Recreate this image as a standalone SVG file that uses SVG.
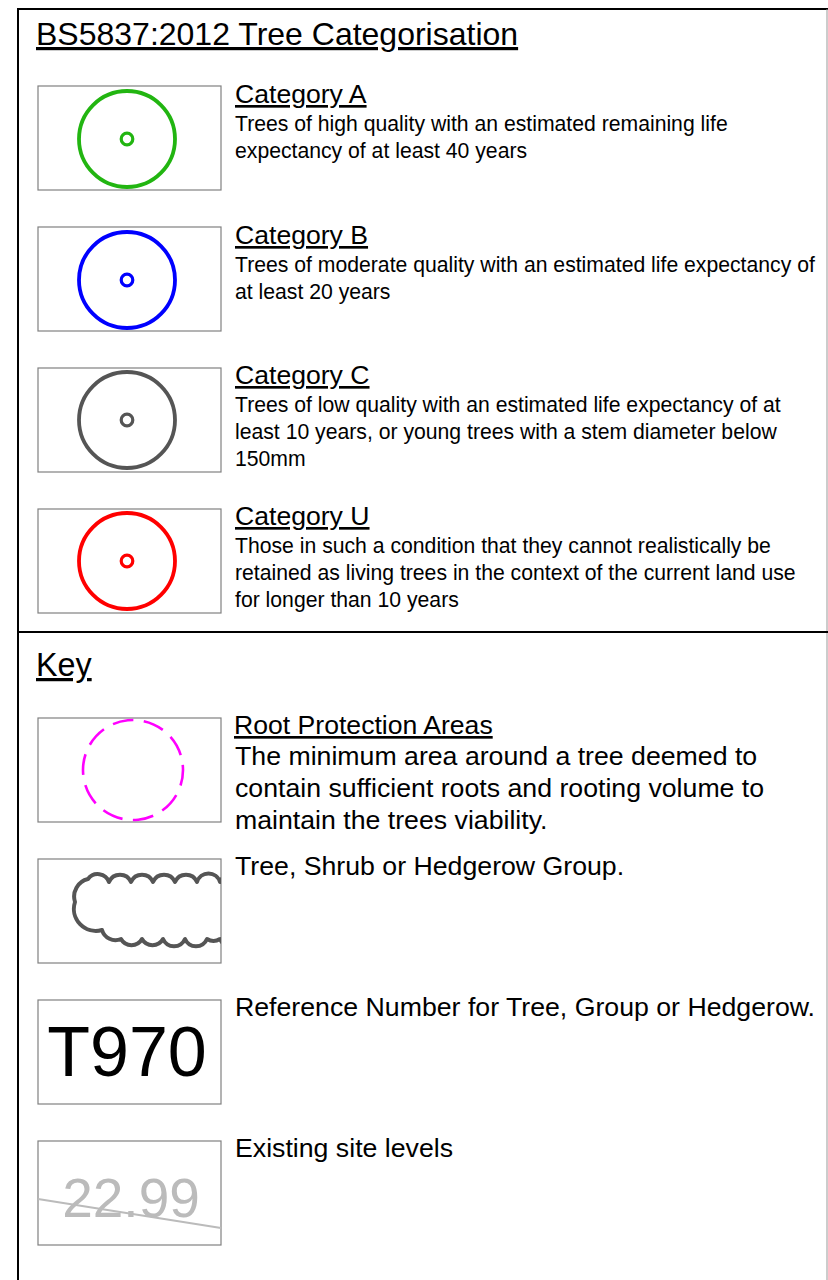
<svg xmlns="http://www.w3.org/2000/svg" width="828" height="1280" viewBox="0 0 828 1280">
<style>
text{font-family:"Liberation Sans",Arial,sans-serif;fill:#000}
.box{fill:#fff;stroke:#808080;stroke-width:1.2}
.h{font-size:26.6px;text-decoration:underline}
.d{font-size:21.2px}
.k{font-size:26.7px}
.ring{fill:none;stroke-width:3.8}
.dot{fill:none;stroke-width:3.2}
</style>
<defs>
<clipPath id="cgrp"><rect x="38" y="859" width="183" height="104"/></clipPath>
</defs>
<rect x="0" y="0" width="828" height="1280" fill="#fff"/>
<g id="frame">
<line x1="18" y1="9" x2="828" y2="9" stroke="#000" stroke-width="2"/>
<line x1="18" y1="8" x2="18" y2="1280" stroke="#000" stroke-width="2"/>
<line x1="827" y1="9" x2="827" y2="1280" stroke="#999" stroke-width="1"/>
<line x1="18" y1="632" x2="828" y2="632" stroke="#000" stroke-width="2"/>
</g>
<g id="title">
<text x="36" y="45" style="font-size:32px;text-decoration:underline">BS5837:2012 Tree Categorisation</text>
</g>
<g id="catA">
<rect class="box" x="38" y="86" width="183" height="104"/>
<circle class="ring" cx="127" cy="139" r="48" stroke="#22b511"/>
<circle class="dot" cx="127" cy="139" r="5.8" stroke="#22b511"/>
<text class="h" x="235" y="103">Category A</text>
<text class="d" x="235" y="131">Trees of high quality with an estimated remaining life</text>
<text class="d" x="235" y="158">expectancy of at least 40 years</text>
</g>
<g id="catB">
<rect class="box" x="38" y="227" width="183" height="104"/>
<circle class="ring" cx="127" cy="280" r="48" stroke="#0000ff"/>
<circle class="dot" cx="127" cy="280" r="5.8" stroke="#0000ff"/>
<text class="h" x="235" y="244">Category B</text>
<text class="d" x="235" y="272">Trees of moderate quality with an estimated life expectancy of</text>
<text class="d" x="235" y="299">at least 20 years</text>
</g>
<g id="catC">
<rect class="box" x="38" y="368" width="183" height="104"/>
<circle class="ring" cx="127" cy="420" r="48" stroke="#555555"/>
<circle class="dot" cx="127" cy="420" r="5.8" stroke="#555555"/>
<text class="h" x="235" y="384">Category C</text>
<text class="d" x="235" y="412">Trees of low quality with an estimated life expectancy of at</text>
<text class="d" x="235" y="439">least 10 years, or young trees with a stem diameter below</text>
<text class="d" x="235" y="466">150mm</text>
</g>
<g id="catU">
<rect class="box" x="38" y="509" width="183" height="104"/>
<circle class="ring" cx="127" cy="561" r="48" stroke="#ff0000"/>
<circle class="dot" cx="127" cy="561" r="5.8" stroke="#ff0000"/>
<text class="h" x="235" y="525">Category U</text>
<text class="d" x="235" y="553">Those in such a condition that they cannot realistically be</text>
<text class="d" x="235" y="580">retained as living trees in the context of the current land use</text>
<text class="d" x="235" y="607">for longer than 10 years</text>
</g>
<g id="keyTitle">
<text x="36" y="676" style="font-size:32.3px;text-decoration:underline">Key</text>
</g>
<g id="rpa">
<rect class="box" x="38" y="718" width="183" height="104"/>
<circle cx="133" cy="770" r="50" fill="none" stroke="#ff00ff" stroke-width="2.6" stroke-dasharray="21 10.416" transform="rotate(-6 133 770)"/>
<text class="h" x="234" y="734">Root Protection Areas</text>
<text class="k" x="235" y="765">The minimum area around a tree deemed to</text>
<text class="k" x="235" y="797">contain sufficient roots and rooting volume to</text>
<text class="k" x="235" y="829">maintain the trees viability.</text>
</g>
<g id="group">
<rect class="box" x="38" y="859" width="183" height="104"/>
<path clip-path="url(#cgrp)" d="M88,879 A12,12 0 0 1 109,882 A12,12 0 0 1 131,882 A12,12 0 0 1 153,882 A12,12 0 0 1 175,882 A12,12 0 0 1 197,882 A12,12 0 0 1 220,882 A12,12 0 0 1 242,882 L242,939 A12,12 0 0 1 220,939 A12,12 0 0 1 207,939 A12,12 0 0 1 185,939 A12,12 0 0 1 163,939 A12,12 0 0 1 142,939 A12,12 0 0 1 121,939 A14,14 0 0 1 102,930 A22,22 0 0 1 75,902 A18,18 0 0 1 88,879 Z" fill="none" stroke="#555" stroke-width="4" stroke-linejoin="round"/>
<text class="k" x="235" y="875">Tree, Shrub or Hedgerow Group.</text>
</g>
<g id="ref">
<rect class="box" x="38" y="1000" width="183" height="104"/>
<text x="127" y="1076" text-anchor="middle" style="font-size:70px">T970</text>
<text class="k" x="235" y="1016">Reference Number for Tree, Group or Hedgerow.</text>
</g>
<g id="levels">
<rect class="box" x="38" y="1141" width="183" height="104"/>
<text x="131" y="1217" text-anchor="middle" style="font-size:55px;fill:#bbbbbb">22.99</text>
<line x1="38" y1="1199" x2="221" y2="1228" stroke="#bbbbbb" stroke-width="2"/>
<text class="k" x="235" y="1157">Existing site levels</text>
</g>
</svg>
